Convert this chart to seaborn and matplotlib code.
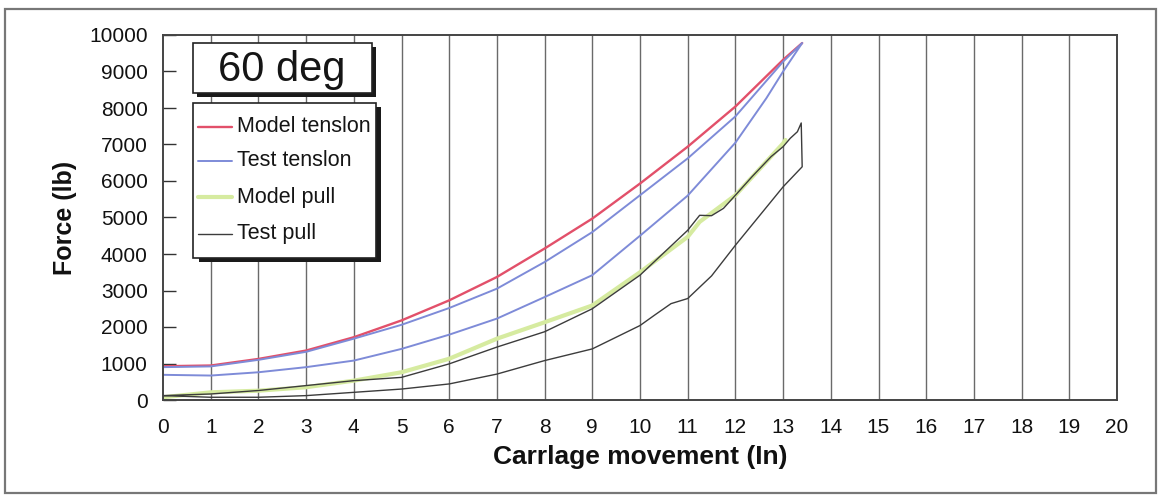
import numpy as np
import pandas as pd
import matplotlib
matplotlib.use("Agg")
import matplotlib.pyplot as plt
from matplotlib.lines import Line2D
from matplotlib.patches import Rectangle
import seaborn as sns

# Carriage movement (in) vs. force (lb), 60 degree case
model_tension_x = [0, 1, 2, 3, 4, 5, 6, 7, 8, 9, 10, 11, 12, 13, 13.4]
model_tension_y = [925, 945, 1125, 1355, 1720, 2180, 2730, 3370, 4150, 4970, 5930, 6940, 8040, 9320, 9780]

# test tension: loading branch followed by the unloading branch
test_tension_x = [0, 1, 2, 3, 4, 5, 6, 7, 8, 9, 10, 11, 12, 12.65, 13, 13.4,
                  13, 12, 11, 10, 9, 8, 7, 6, 5, 4, 3, 2, 1, 0]
test_tension_y = [690, 670, 760, 900, 1080, 1400, 1790, 2230, 2820, 3420, 4500, 5600, 7050, 8270, 9000, 9780,
                  9270, 7770, 6620, 5610, 4600, 3780, 3050, 2520, 2060, 1680, 1320, 1100, 920, 900]

model_pull_x = [0, 1, 2, 3, 4, 5, 6, 7, 8, 9, 10, 11, 11.25, 12, 13, 13.05]
model_pull_y = [75, 210, 255, 350, 530, 760, 1130, 1680, 2130, 2590, 3500, 4470, 4880, 5610, 7030, 7125]

test_pull_x = [0, 1, 2, 3, 4, 5, 6, 7, 8, 9, 10, 11, 11.25, 11.5, 11.75, 12, 12.35, 12.75, 13, 13.15, 13.3, 13.38,
               13.4, 13, 12, 11.5, 11, 10.65, 10.3, 10, 9, 8, 7, 6, 5, 4, 3, 2, 1, 0]
test_pull_y = [120, 165, 260, 395, 530, 620, 990, 1450, 1870, 2500, 3420, 4650, 5060, 5050, 5250, 5610, 6120, 6670, 6940, 7170, 7350, 7590,
               6390, 5840, 4240, 3400, 2780, 2640, 2320, 2040, 1400, 1080, 710, 440, 300, 210, 120, 75, 75, 120]

series_labels = ["Model tenslon", "Test tenslon", "Model pull", "Test pull"]
x_ticks = list(range(0, 21))
y_ticks = list(range(0, 10001, 1000))
panel_title = "60 deg"
x_label = "Carrlage movement (In)"
y_label = "Force (lb)"

sns.set_theme(style="white")
plt.rcParams["font.family"] = ["Liberation Sans", "DejaVu Sans"]

W, H = 1159, 497
fig = plt.figure(figsize=(W / 100, H / 100), dpi=100)
fig.patch.set_facecolor("white")


def fig_box(x0, y0, x1, y1):
    """Pixel box (top-left origin) -> figure-fraction rectangle args."""
    return (x0 / W, 1 - y1 / H), (x1 - x0) / W, (y1 - y0) / H


ax = fig.add_axes([163 / W, 1 - 400 / H, (1117 - 163) / W, (400 - 35) / H])

styles = [
    dict(color="#e2506a", lw=1.7),
    dict(color="#7e8bd8", lw=1.4),
    dict(color="#d6eba0", lw=3.0),
    dict(color="#3c3c3c", lw=1.0),
]
series = [
    (model_tension_x, model_tension_y),
    (test_tension_x, test_tension_y),
    (model_pull_x, model_pull_y),
    (test_pull_x, test_pull_y),
]
draw_order = [2, 0, 1, 3]
for i in draw_order:
    xs, ys = series[i]
    df = pd.DataFrame({"x": xs, "y": ys})
    sns.lineplot(data=df, x="x", y="y", sort=False, estimator=None, ax=ax,
                 color=styles[i]["color"], linewidth=styles[i]["lw"])

ax.set_xlim(0, 20)
ax.set_ylim(0, 10000)
ax.set_xticks(x_ticks)
ax.set_yticks(y_ticks)
ax.set_xticklabels([str(t) for t in x_ticks])
ax.set_yticklabels([str(t) for t in y_ticks])
ax.tick_params(axis="y", direction="in", length=9, width=1.0, color="#333333",
               labelsize=15, pad=11, left=True, labelcolor="#111111")
ax.tick_params(axis="x", length=0, labelsize=15, pad=13, labelcolor="#111111")
for t in x_ticks[1:-1]:
    ax.axvline(t, color="#6a6a6a", lw=1.0, zorder=0.5)
for side, sp in ax.spines.items():
    sp.set_visible(True)
    sp.set_color("#444444")
    sp.set_linewidth(1.4)

ax.set_xlabel(x_label, fontsize=19, fontweight="bold", labelpad=6, color="#111111")
ax.set_ylabel(y_label, fontsize=18, fontweight="bold", labelpad=9, color="#111111")

# title box with drop shadow
(sx, sy), sw, sh = fig_box(197, 47, 376, 97)
fig.patches.append(Rectangle((sx, sy), sw, sh, transform=fig.transFigure,
                             facecolor="#1a1a1a", edgecolor="none", zorder=5))
(bx, by), bw, bh = fig_box(193, 43, 372, 93)
fig.patches.append(Rectangle((bx, by), bw, bh, transform=fig.transFigure,
                             facecolor="white", edgecolor="#222222", lw=1.2, zorder=6))
fig.text((193 + 370) / 2 / W, 1 - 70 / H, panel_title, fontsize=30,
         ha="center", va="center", color="#151515", zorder=7)

# legend box with drop shadow
(sx, sy), sw, sh = fig_box(199, 107, 381, 262)
fig.patches.append(Rectangle((sx, sy), sw, sh, transform=fig.transFigure,
                             facecolor="#1a1a1a", edgecolor="none", zorder=5))
(bx, by), bw, bh = fig_box(193, 103, 376, 258)
fig.patches.append(Rectangle((bx, by), bw, bh, transform=fig.transFigure,
                             facecolor="white", edgecolor="#222222", lw=1.2, zorder=6))
row_y = [127, 161, 197, 234]
for label, st, ry in zip(series_labels, styles, row_y):
    yy = 1 - ry / H
    fig.add_artist(Line2D([198 / W, 232 / W], [yy, yy], transform=fig.transFigure,
                          color=st["color"], lw=st["lw"], zorder=7))
    fig.text(237 / W, yy, label, fontsize=15.5, ha="left", va="center",
             color="#151515", zorder=7)

# outer page frame
(fx, fy), fw, fh = fig_box(5, 9, 1156, 493)
fig.patches.append(Rectangle((fx, fy), fw, fh, transform=fig.transFigure,
                             facecolor="none", edgecolor="#777777", lw=1.6, zorder=1))

fig.savefig("out.png", dpi=100, facecolor="white")
